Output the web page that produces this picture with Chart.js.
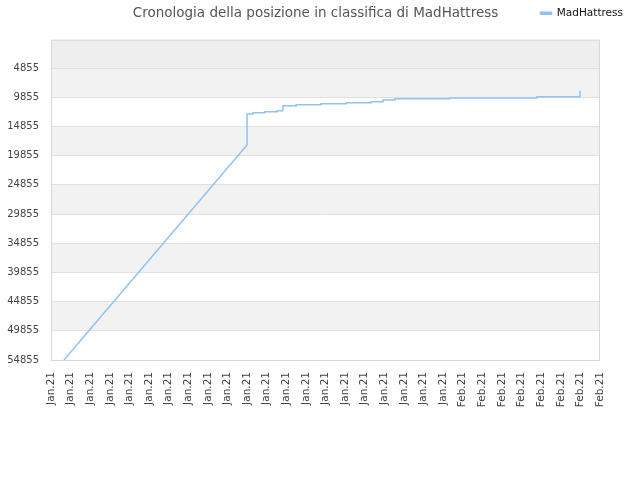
<!DOCTYPE html>
<html>
<head>
<meta charset="utf-8">
<script src="https://cdn.jsdelivr.net/npm/chart.js@4/dist/chart.umd.min.js"></script>
<style>
  html, body { margin: 0; padding: 0; background: #fff; }
  #wrap { width: 640px; height: 480px; }
</style>
</head>
<body>
<div id="wrap"><canvas id="chart-area"></canvas></div>
<script>
/* data */
var tickLabels = [
    "Jan.21", "Jan.21", "Jan.21", "Jan.21", "Jan.21", "Jan.21", "Jan.21",
    "Jan.21", "Jan.21", "Jan.21", "Jan.21", "Jan.21", "Jan.21", "Jan.21",
    "Jan.21", "Jan.21", "Jan.21", "Jan.21", "Jan.21", "Jan.21", "Jan.21",
    "Feb.21", "Feb.21", "Feb.21", "Feb.21", "Feb.21", "Feb.21", "Feb.21", "Feb.21"
];
var rankTicks = [4855, 9855, 14855, 19855, 24855, 29855, 34855, 39855, 44855, 49855, 54855];

// position along the date axis (tick index) and rank at that point
var positions = [0.66, 10.0, 10.0, 10.3, 10.3, 10.91, 10.91, 11.53, 11.53, 11.83, 11.83,
    12.5, 12.5, 13.77, 13.77, 15.05, 15.05, 16.32, 16.32, 16.93, 16.93,
    17.54, 17.54, 20.35, 20.35, 24.79, 24.79, 26.98, 26.98];
var ranks = [54855, 18040, 12730, 12730, 12510, 12510, 12340, 12340, 12165, 12165, 11310,
    11310, 11140, 11140, 10970, 10970, 10795, 10795, 10625, 10625, 10335,
    10335, 10110, 10110, 9990, 9990, 9770, 9770, 8740];

var points = positions.map(function (p, i) {
    return {x: p, y: ranks[i]};
});

var bandPlugin = {
    id: 'bands',
    beforeDraw: function (chart) {
        var ctx = chart.ctx, area = chart.chartArea, y = chart.scales.y;
        ctx.save();
        // top band above first tick
        ctx.fillStyle = '#eeeeee';
        var t = y.getPixelForValue(rankTicks[0]);
        ctx.fillRect(area.left, area.top, area.right - area.left, t - area.top);
        ctx.fillStyle = '#f2f2f2';
        for (var i = 0; i < rankTicks.length - 1; i += 2) {
            var a = y.getPixelForValue(rankTicks[i]);
            var b = y.getPixelForValue(rankTicks[i + 1]);
            ctx.fillRect(area.left, a, area.right - area.left, b - a);
        }
        ctx.restore();
    },
    afterDraw: function (chart) {
        var ctx = chart.ctx, area = chart.chartArea;
        ctx.save();
        ctx.strokeStyle = '#d8d8d8';
        ctx.lineWidth = 1;
        ctx.strokeRect(area.left + 0.5, area.top + 0.5, area.right - area.left - 1, area.bottom - area.top);
        ctx.restore();
    }
};

var config = {
    type: 'line',
    data: {
        datasets: [{
            label: 'MadHattress',
            data: points,
            borderColor: '#90c2f3',
            backgroundColor: '#90c2f3',
            borderWidth: 1.5,
            pointRadius: 0,
            tension: 0,
            fill: false
        }]
    },
    options: {
        responsive: true,
        maintainAspectRatio: false,
        animation: false,
        layout: {padding: {left: 0, right: 9, top: 0, bottom: 0}},
        plugins: {
            title: {
                display: true,
                text: 'Cronologia della posizione in classifica di MadHattress',
                color: '#555555',
                font: {family: 'DejaVu Sans', size: 13.5, weight: 'normal'},
                padding: {top: -23, bottom: 18}
            },
            legend: {
                display: true,
                position: 'top',
                align: 'end',
                weight: 3000,
                labels: {
                    color: '#111111',
                    font: {family: 'DejaVu Sans', size: 10.5},
                    boxWidth: 11,
                    boxHeight: 2,
                    padding: 8
                }
            },
            tooltip: {enabled: false}
        },
        scales: {
            x: {
                type: 'linear',
                min: 0,
                max: 28,
                afterBuildTicks: function (scale) {
                    scale.ticks = tickLabels.map(function (l, i) { return {value: i}; });
                },
                afterFit: function (scale) { scale.height = 120; },
                grid: {display: false, drawTicks: false},
                border: {display: false},
                ticks: {
                    autoSkip: false,
                    maxRotation: 90,
                    minRotation: 90,
                    padding: 12,
                    color: '#444444',
                    font: {family: 'DejaVu Sans', size: 10.5},
                    callback: function (v) { return tickLabels[v]; }
                }
            },
            y: {
                reverse: true,
                min: 0,
                max: 54855,
                afterBuildTicks: function (scale) {
                    scale.ticks = rankTicks.map(function (v) { return {value: v}; });
                },
                afterFit: function (scale) { scale.width = 51; },
                grid: {color: '#e0e0e0', drawTicks: false},
                border: {display: false},
                ticks: {
                    padding: 12,
                    color: '#444444',
                    font: {family: 'DejaVu Sans', size: 10},
                    callback: function (v) { return String(v); }
                }
            },
            // empty right margin so the legend can run past the plot
            yRight: {
                position: 'right',
                afterFit: function (scale) { scale.width = 31; },
                grid: {display: false, drawTicks: false},
                border: {display: false},
                ticks: {display: false}
            }
        }
    },
    plugins: [bandPlugin]
};

var ctx = document.getElementById("chart-area").getContext("2d");
var myChart = new Chart(ctx, config);
</script>
</body>
</html>
